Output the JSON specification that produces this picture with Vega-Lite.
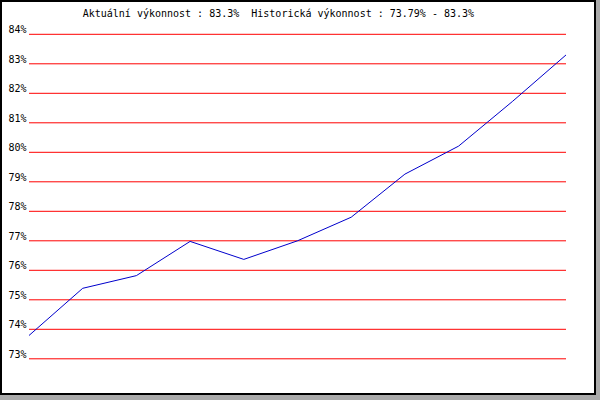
{
  "$schema": "https://vega.github.io/schema/vega-lite/v6.json",
  "width": 594,
  "height": 393,
  "padding": {"left": 1, "top": 1, "right": 5, "bottom": 6},
  "background": "#aaaaaa",
  "config": {
    "view": {"stroke": "#000000", "strokeWidth": 2, "fill": "#ffffff"},
    "font": "DejaVu Sans Mono"
  },
  "datasets": {
    "perf": [
      {"i": 0, "v": 73.79},
      {"i": 1, "v": 75.39},
      {"i": 2, "v": 75.82},
      {"i": 3, "v": 76.98},
      {"i": 4, "v": 76.37},
      {"i": 5, "v": 77.0},
      {"i": 6, "v": 77.8},
      {"i": 7, "v": 79.26},
      {"i": 8, "v": 80.21},
      {"i": 9, "v": 81.72},
      {"i": 10, "v": 83.3}
    ],
    "grid": [
      {"g": 73, "label": "73%"}, {"g": 74, "label": "74%"}, {"g": 75, "label": "75%"},
      {"g": 76, "label": "76%"}, {"g": 77, "label": "77%"}, {"g": 78, "label": "78%"},
      {"g": 79, "label": "79%"}, {"g": 80, "label": "80%"}, {"g": 81, "label": "81%"},
      {"g": 82, "label": "82%"}, {"g": 83, "label": "83%"}, {"g": 84, "label": "84%"}
    ]
  },
  "layer": [
    {
      "data": {"name": "grid"},
      "mark": {"type": "rule", "color": "#ff0000", "strokeWidth": 1},
      "encoding": {
        "y": {
          "field": "g",
          "type": "quantitative",
          "scale": {"domain": [71.807, 85.129], "nice": false, "zero": false},
          "axis": null
        },
        "x": {
          "datum": 0,
          "type": "quantitative",
          "scale": {"domain": [-0.5214, 10.54], "nice": false, "zero": false},
          "axis": null
        },
        "x2": {"datum": 10}
      }
    },
    {
      "data": {"name": "grid"},
      "mark": {
        "type": "text",
        "align": "right",
        "baseline": "alphabetic",
        "dy": -1,
        "font": "DejaVu Sans Mono",
        "fontSize": 10,
        "color": "#000000"
      },
      "encoding": {
        "y": {"field": "g", "type": "quantitative", "axis": null},
        "x": {"datum": -0.045, "type": "quantitative", "axis": null},
        "text": {"field": "label", "type": "nominal"}
      }
    },
    {
      "data": {"name": "perf"},
      "mark": {"type": "line", "color": "#0000cc", "strokeWidth": 1},
      "encoding": {
        "x": {"field": "i", "type": "quantitative", "axis": null},
        "y": {"field": "v", "type": "quantitative", "axis": null}
      }
    },
    {
      "data": {"values": [{}]},
      "mark": {
        "type": "text",
        "align": "left",
        "baseline": "alphabetic",
        "font": "DejaVu Sans Mono",
        "fontSize": 10,
        "color": "#000000"
      },
      "encoding": {
        "x": {"datum": 1, "type": "quantitative", "axis": null},
        "y": {"datum": 84.58, "type": "quantitative", "axis": null},
        "text": {"value": "Aktuální výkonnost : 83.3%\u00a0 Historická výkonnost : 73.79% - 83.3%"}
      }
    }
  ]
}
